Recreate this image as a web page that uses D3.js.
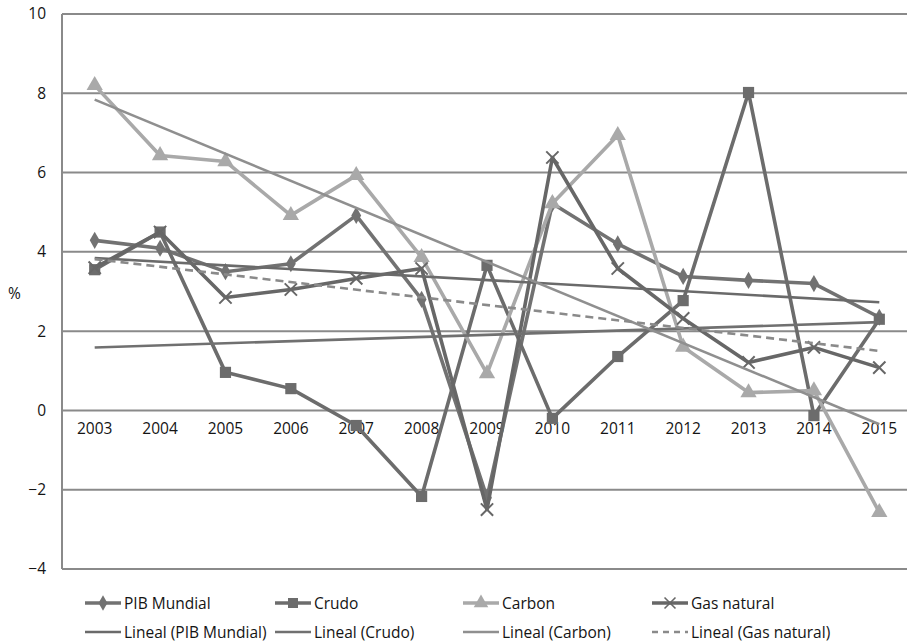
<!DOCTYPE html>
<html>
<head>
<meta charset="UTF-8">
<script src="https://cdn.jsdelivr.net/npm/d3@7"></script>
<style>
    body { margin: 0; background: #fff; }
    svg text { font-family: "Open Sans", "Noto Sans", sans-serif; fill: #141414; }
</style>
</head>
<body>
<div id="container"></div>
<script>
// datos (%)
const years = ["2003", "2004", "2005", "2006", "2007", "2008", "2009", "2010", "2011", "2012", "2013", "2014", "2015"];
const pibMundial = [4.29, 4.09, 3.5, 3.7, 4.92, 2.8, -2.2, 5.22, 4.2, 3.38, 3.28, 3.2, 2.35];
const crudo = [3.55, 4.5, 0.96, 0.55, -0.38, -2.17, 3.66, -0.2, 1.36, 2.77, 8.02, -0.13, 2.3];
const carbon = [8.2, 6.43, 6.28, 4.92, 5.93, 3.86, 0.93, 5.22, 6.94, 1.6, 0.45, 0.5, -2.57];
const gasNatural = [3.6, 4.5, 2.85, 3.05, 3.33, 3.58, -2.5, 6.38, 3.58, 2.32, 1.21, 1.59, 1.08];
const yTicks = [-4, -2, 0, 2, 4, 6, 8, 10];

const width = 907, height = 643;
const margin = { top: 14, left: 62, bottomY: 569 };

const svg = d3.select("#container").append("svg")
    .attr("width", width)
    .attr("height", height);

const x = d3.scaleBand()
    .domain(years)
    .range([margin.left, 912])
    .padding(0);
const y = d3.scaleLinear()
    .domain([-4, 10])
    .range([margin.bottomY, margin.top]);
const cx = d => x(d) + x.bandwidth() / 2;

// lineas de cuadricula
svg.append("g").selectAll("line")
    .data(yTicks)
    .join("line")
    .attr("x1", margin.left)
    .attr("x2", width)
    .attr("y1", d => y(d))
    .attr("y2", d => y(d))
    .attr("stroke", "#8a8a8a")
    .attr("stroke-width", 2);

// eje vertical
svg.append("line")
    .attr("x1", margin.left).attr("x2", margin.left)
    .attr("y1", y(10)).attr("y2", y(-4))
    .attr("stroke", "#8a8a8a").attr("stroke-width", 2);

const yAxis = d3.axisLeft(y).tickValues(yTicks).tickSize(0).tickPadding(0);
const gy = svg.append("g")
    .attr("transform", "translate(46,0)")
    .call(yAxis);
gy.select(".domain").remove();
gy.selectAll("text").style("font-size", "15.5px").attr("fill", "#141414");

svg.append("text")
    .attr("x", 8).attr("y", 299)
    .style("font-size", "15.5px")
    .text("%");

// etiquetas de categorias en y = 0
const xAxis = d3.axisBottom(x).tickSize(0).tickPadding(0);
const gx = svg.append("g")
    .attr("transform", `translate(0,${y(0) + 13})`)
    .call(xAxis);
gx.select(".domain").remove();
gx.selectAll("text").style("font-size", "15.5px").attr("fill", "#141414");

// regresion lineal
function trend(vals) {
    const n = vals.length;
    const mx = (n - 1) / 2;
    const my = d3.mean(vals);
    let sxy = 0, sxx = 0;
    vals.forEach((v, i) => { sxy += (i - mx) * (v - my); sxx += (i - mx) * (i - mx); });
    const b = sxy / sxx;
    return [my - b * mx, my + b * (n - 1 - mx)];
}

const series = [
    { name: "PIB Mundial", vals: pibMundial, color: "#727272", sym: d3.symbolDiamond, size: 85 },
    { name: "Crudo", vals: crudo, color: "#6c6c6c", sym: d3.symbolSquare, size: 125 },
    { name: "Carbon", vals: carbon, color: "#a9a9a9", sym: d3.symbolTriangle, size: 115 },
    { name: "Gas natural", vals: gasNatural, color: "#676767", sym: d3.symbolX, size: 100 }
];
const trends = [
    { name: "Lineal (PIB Mundial)", vals: pibMundial, color: "#6a6a6a", dash: null },
    { name: "Lineal (Crudo)", vals: crudo, color: "#707070", dash: null },
    { name: "Lineal (Carbon)", vals: carbon, color: "#8f8f8f", dash: null },
    { name: "Lineal (Gas natural)", vals: gasNatural, color: "#8a8a8a", dash: "8,5" }
];

const line = d3.line()
    .x((d, i) => cx(years[i]))
    .y(d => y(d));

series.forEach(s => {
    svg.append("path")
        .attr("d", line(s.vals))
        .attr("fill", "none")
        .attr("stroke", s.color)
        .attr("stroke-width", 3.6)
        .attr("stroke-linejoin", "round");
    svg.append("g").selectAll("path")
        .data(s.vals)
        .join("path")
        .attr("transform", (d, i) => `translate(${cx(years[i])},${y(d)})`)
        .attr("d", d3.symbol().type(s.sym).size(s.size))
        .attr("fill", s.color)
        .attr("stroke", s.color)
        .attr("stroke-width", s.sym === d3.symbolX ? 2 : 0);
});

trends.forEach(t => {
    const ends = trend(t.vals);
    svg.append("line")
        .attr("x1", cx(years[0])).attr("y1", y(ends[0]))
        .attr("x2", cx(years[years.length - 1])).attr("y2", y(ends[1]))
        .attr("stroke", t.color)
        .attr("stroke-width", 2.6)
        .attr("stroke-dasharray", t.dash);
});

// leyenda
const legX = [85, 275, 463, 652];
const leg = svg.append("g");
series.forEach((s, i) => {
    const g = leg.append("g").attr("transform", `translate(${legX[i]},603)`);
    g.append("line").attr("x1", 0).attr("x2", 36)
        .attr("stroke", s.color).attr("stroke-width", 3.4);
    g.append("path").attr("transform", "translate(18,0)")
        .attr("d", d3.symbol().type(s.sym).size(s.size * 0.8))
        .attr("fill", s.color).attr("stroke", s.color)
        .attr("stroke-width", s.sym === d3.symbolX ? 1.6 : 0);
    g.append("text").attr("x", 39).attr("y", 6)
        .style("font-size", "15.5px").text(s.name);
});
trends.forEach((t, i) => {
    const g = leg.append("g").attr("transform", `translate(${legX[i]},632)`);
    g.append("line").attr("x1", 0).attr("x2", 36)
        .attr("stroke", t.color).attr("stroke-width", 2.6)
        .attr("stroke-dasharray", t.dash ? "6,5" : null);
    g.append("text").attr("x", 39).attr("y", 6)
        .style("font-size", "15.5px").text(t.name);
});
</script>
</body>
</html>
